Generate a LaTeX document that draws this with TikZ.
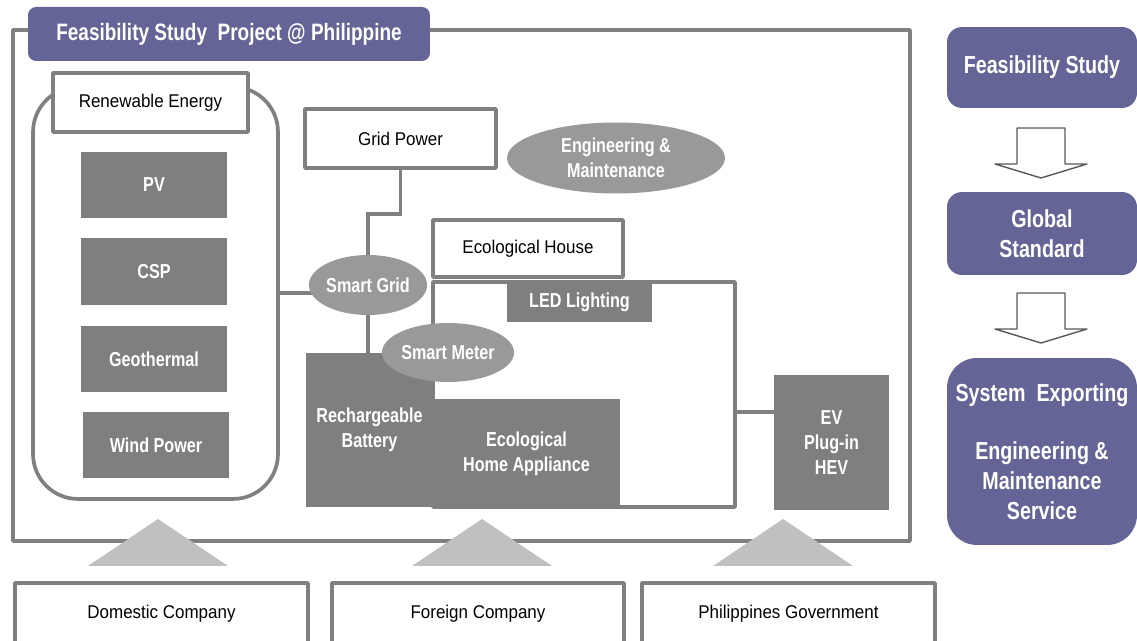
\documentclass[tikz,border=0pt]{standalone}
\usepackage{fontspec}
\setmainfont{Liberation Sans}[FakeStretch=0.92,BoldFeatures={FakeStretch=0.8}]
\usetikzlibrary{shapes.geometric,backgrounds}
\definecolor{fsblue}{RGB}{100,100,150}
\definecolor{boxgray}{RGB}{127,127,127}
\definecolor{ovalgray}{RGB}{153,153,153}
\definecolor{linegray}{RGB}{128,128,128}
\definecolor{trigray}{RGB}{192,192,192}
\begin{document}
\begin{tikzpicture}[x=0.02cm, y=-0.02cm, line join=round,
	wire/.style={draw=linegray, line width=2.1pt},
	whitebox/.style={wire, fill=white, text=black, font=\fontsize{10.5}{13}\selectfont},
	darkbox/.style={fill=boxgray, text=white, align=center, inner sep=0pt, font=\fontsize{11.5}{14}\selectfont\bfseries},
	oval/.style={ellipse, fill=ovalgray, text=white, align=center, inner sep=0pt, font=\fontsize{11.5}{14}\selectfont\bfseries},
	stepblue/.style={fill=fsblue, text=white, align=center, inner sep=0pt, rounded corners=0.3cm, font=\fontsize{14}{17}\selectfont\bfseries},
	hollow/.style={draw=black!65, line width=0.8pt, fill=white}]
	\useasboundingbox (0,0) rectangle (1137,641);
	\clip (0,0) rectangle (1137,641);
	\draw[wire] (13,30) rectangle (910,541);
	\node[stepblue, rounded corners=0.16cm, minimum width=8.04cm, minimum height=1.08cm, font=\fontsize{13.5}{16}\selectfont\bfseries] (title) at (229,34) {Feasibility Study\ \ Project @ Philippine};
	\node[wire, fill=white, rounded corners=0.9cm, minimum width=4.9cm, minimum height=8.24cm] (re) at (155.5,293) {};
	\node[whitebox, minimum width=3.9cm, minimum height=1.18cm] (rel) at (150.5,102.5) {Renewable Energy};
	\node[darkbox, minimum width=2.92cm, minimum height=1.34cm] (pv) at (154,185) {PV};
	\node[darkbox, minimum width=2.92cm, minimum height=1.34cm] (csp) at (154,271.5) {CSP};
	\node[darkbox, minimum width=2.92cm, minimum height=1.34cm] (geo) at (154,359) {Geothermal};
	\node[darkbox, minimum width=2.92cm, minimum height=1.34cm] (wind) at (156,445) {Wind Power};
	\node[whitebox, minimum width=3.82cm, minimum height=1.18cm] (gp) at (400.5,138.5) {Grid Power};
	\node[oval, minimum width=4.36cm, minimum height=1.42cm] (em) at (616,158) {Engineering \&\\Maintenance};
	\node[whitebox, minimum width=3.8cm, minimum height=1.14cm] (eh) at (528,248.5) {Ecological House};
	\draw[wire] (433,282) rectangle (735,507);
	\coordinate (hr) at (735,412);
	\node[darkbox, minimum width=2.9cm, minimum height=0.78cm] (led) at (579.5,302.5) {LED Lighting};
	\node[darkbox, minimum width=2.54cm, minimum height=3.08cm] (rb) at (369.5,430) {Rechargeable\\Battery};
	\node[darkbox, minimum width=3.74cm, minimum height=2.18cm] (ha) at (526.5,453.5) {Ecological\\Home Appliance};
	\node[darkbox, minimum width=2.3cm, minimum height=2.7cm] (ev) at (831.5,442.5) {EV\\Plug-in\\HEV};
	\node[oval, minimum width=2.34cm, minimum height=1.2cm] (sg) at (368,285) {Smart Grid};
	\node[oval, minimum width=2.36cm, minimum height=1.18cm] (sm) at (448,352.5) {Smart Meter};
	\begin{scope}[on background layer]
		\draw[wire] (re.east) -- (re.east -| sg.center);
		\draw[wire] (gp.south) -- ++(0,44) -| (sg.north);
		\draw[wire] (sg.south) -- (sg.south |- rb.north);
		\draw[wire] (hr) -- (hr -| ev.west);
	\end{scope}
	\foreach \x in {158,482,783}
		\fill[trigray] (\x-70,566) -- (\x,519) -- (\x+70,566) -- cycle;
	\node[whitebox, minimum width=5.86cm, minimum height=1.24cm] (dc) at (161.5,614) {Domestic Company};
	\node[whitebox, minimum width=5.84cm, minimum height=1.24cm] (fc) at (478,614) {Foreign Company};
	\node[whitebox, minimum width=5.86cm, minimum height=1.24cm] (pg) at (788.5,614) {Philippines Government};
	\node[stepblue, minimum width=3.8cm, minimum height=1.62cm] (fs) at (1042,67.5) {Feasibility Study};
	\node[stepblue, minimum width=3.8cm, minimum height=1.66cm] (gs) at (1042,233.5) {Global\\Standard};
	\node[stepblue, rounded corners=0.6cm, minimum width=3.8cm, minimum height=3.74cm] (se) at (1042,451.5) {System\ \ Exporting\\[16pt]Engineering \&\\Maintenance\\Service};
	\foreach \y in {128,293}
		\draw[hollow] (1017,\y) -- (1065,\y) -- (1065,\y+36) -- (1087,\y+36) -- (1041,\y+50) -- (995,\y+36) -- (1017,\y+36) -- cycle;
\end{tikzpicture}
\end{document}
